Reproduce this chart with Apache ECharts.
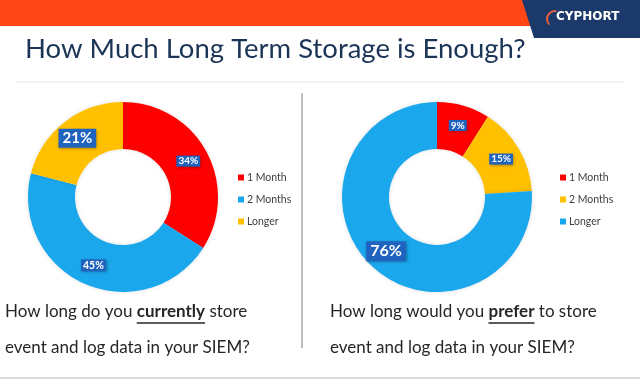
<!DOCTYPE html>
<html><head><meta charset="utf-8">
<script src="https://cdn.jsdelivr.net/npm/echarts@6/dist/echarts.min.js"></script>
<style>html,body{margin:0;padding:0;background:#fff}#c{width:640px;height:380px}</style>
</head><body><div id="c"></div>
<script>
const chartTitle = 'How Much Long Term Storage is Enough?';
const categories = ['1 Month', '2 Months', 'Longer'];
const currentValues = [34, 45, 21];
const preferValues = [9, 15, 76];
const currentColors = ['#FF0000', '#1AA7EC', '#FFC000'];
const preferColors = ['#FF0000', '#FFC000', '#1AA7EC'];
const currentLabelSizes = [10, 10.5, 15];
const preferLabelSizes = [10, 10, 16];
const leftQuestion = ['How long do you ', 'currently', ' store', 'event and log data in your SIEM?'];
const rightQuestion = ['How long would you ', 'prefer', ' to store', 'event and log data in your SIEM?'];

const FONT = 'Lato';
const chart = echarts.init(document.getElementById('c'), null, {renderer: 'canvas'});

function pieData(vals, colors, sizes) {
  return vals.map((v, i) => ({
    name: categories[i], value: v,
    itemStyle: {color: colors[i]},
    label: {fontSize: sizes[i], padding: sizes[i] > 12 ? [3, 4, 1, 4] : [1, 2, 0, 2]}
  }));
}
function legendData(colors) {
  return categories.map((c, i) => ({name: c, itemStyle: {color: colors[i]}}));
}
const pieCommon = {
  type: 'pie', radius: [48, 95], startAngle: 90, clockwise: true,
  silent: true, animation: false,
  label: {
    show: true, position: 'inside', formatter: '{c}%', color: '#fff',
    fontWeight: 'bold', fontFamily: FONT, backgroundColor: '#1F63BF',
    shadowColor: 'rgba(0,0,0,0.35)', shadowBlur: 3, shadowOffsetX: 1, shadowOffsetY: 1
  },
  labelLine: {show: false},
  itemStyle: {shadowColor: 'rgba(0,0,0,0.12)', shadowBlur: 4}
};
const legendCommon = {
  orient: 'vertical', top: 167, itemWidth: 6, itemHeight: 6, itemGap: 11, icon: 'rect',
  textStyle: {fontSize: 10.5, color: '#404040', fontFamily: FONT, padding: [0, 0, 0, -2]},
  selectedMode: false
};

// measure text for underline placement
const mc = document.createElement('canvas').getContext('2d');
function tw(t, bold, size) { mc.font = (bold ? 'bold ' : '') + size + 'px ' + FONT; return mc.measureText(t).width; }

function question(x, parts) {
  const size = 17;
  const els = [];
  els.push({type: 'text', left: x, top: 303, style: {
    text: '{a|' + parts[0] + '}{b|' + parts[1] + '}{a|' + parts[2] + '}',
    rich: {a: {fontSize: size, fontFamily: FONT, fill: '#262626'}, b: {fontSize: size, fontFamily: FONT, fontWeight: 'bold', fill: '#262626'}}
  }});
  els.push({type: 'text', left: x, top: 339, style: {text: parts[3], fontSize: size, fontFamily: FONT, fill: '#262626'}});
  const ux = x + tw(parts[0], false, size);
  const uw = tw(parts[1], true, size);
  els.push({type: 'line', shape: {x1: ux, y1: 323, x2: ux + uw, y2: 323}, style: {stroke: '#262626', lineWidth: 1.3}});
  return els;
}

chart.setOption({
  animation: false,
  legend: [
    Object.assign({left: 233, data: legendData(currentColors)}, legendCommon),
    Object.assign({left: 555, data: legendData(preferColors)}, legendCommon)
  ],
  series: [
    Object.assign({}, pieCommon, {center: [123, 197], data: pieData(currentValues, currentColors, currentLabelSizes)}),
    Object.assign({}, pieCommon, {center: [437, 197], data: pieData(preferValues, preferColors, preferLabelSizes)})
  ],
  graphic: [
    {type: 'rect', shape: {x: 0, y: 0, width: 530, height: 26}, style: {fill: '#FF4614'}},
    {type: 'polygon', shape: {points: [[522, 0], [640, 0], [640, 38], [534, 38]]}, style: {fill: '#1B3A6B'}},
    {type: 'text', left: 556, top: 11, style: {text: 'CYPHORT', fontSize: 12, fontWeight: 'bold', fontFamily: 'DejaVu Sans', fill: '#fff'}},
    {type: 'arc', shape: {cx: 555, cy: 19, r: 8, startAngle: Math.PI * 0.75, endAngle: Math.PI * 1.55}, style: {stroke: '#E8603C', lineWidth: 2, fill: null}},
    {type: 'text', left: 25, top: 35, style: {text: chartTitle, fontSize: 27.5, fontFamily: FONT, fill: '#1C3557'}},
    {type: 'line', shape: {x1: 15, y1: 82, x2: 625, y2: 82}, style: {stroke: '#E8E8E8', lineWidth: 1}},
    {type: 'line', shape: {x1: 302, y1: 93, x2: 302, y2: 348}, style: {stroke: '#BFBFBF', lineWidth: 2}},
    {type: 'line', shape: {x1: 0, y1: 378, x2: 640, y2: 378}, style: {stroke: '#D9D9D9', lineWidth: 2}}
  ].concat(question(5, leftQuestion), question(330, rightQuestion))
});
</script></body></html>
